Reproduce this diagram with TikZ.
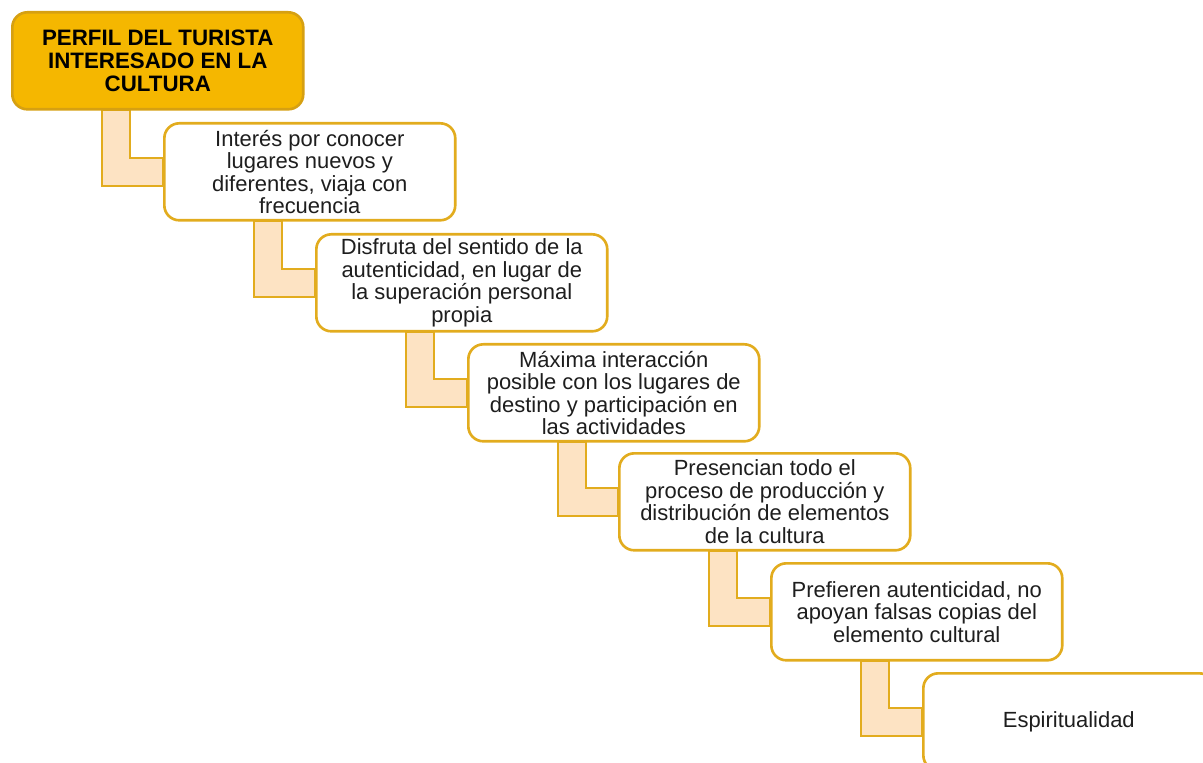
\documentclass[tikz,border=0pt]{standalone}
\usepackage{fontspec}
\setmainfont{Liberation Sans}
\usetikzlibrary{backgrounds}

\definecolor{gold}{RGB}{245,183,0}
\definecolor{goldline}{RGB}{214,160,18}
\definecolor{boxline}{RGB}{226,172,30}
\definecolor{peach}{RGB}{253,227,195}
\definecolor{textgray}{RGB}{30,30,30}

\tikzset{
    stepbox/.style={draw=boxline, line width=1.5pt, rounded corners=0.3cm,
        fill=white, text=textgray, minimum width=5.82cm, minimum height=1.94cm,
        inner sep=2pt, align=center, anchor=north west,
        font=\fontsize{12.5}{12.8}\selectfont},
    headbox/.style={stepbox, fill=gold, draw=goldline, text=black,
        font=\bfseries\fontsize{12.7}{12.9}\selectfont},
    link/.style={fill=peach, draw=boxline, line width=1pt}
}

\begin{document}
\begin{tikzpicture}[x=0.02cm, y=-0.02cm]
    \useasboundingbox (0,0) rectangle (1203,763);
    \clip (0,0) rectangle (1203,763);

%Kaesten
    \node[headbox] (perfil) at (11,11)
        {PERFIL DEL TURISTA\\INTERESADO EN LA\\CULTURA};
    \node[stepbox] (interes) at (163,122)
        {Interés por conocer\\lugares nuevos y\\diferentes, viaja con\\frecuencia};
    \node[stepbox] (disfruta) at (315,233)
        {Disfruta del sentido de la\\autenticidad, en lugar de\\la superación personal\\propia};
    \node[stepbox] (maxima) at (467,343)
        {Máxima interacción\\posible con los lugares de\\destino y participación en\\las actividades};
    \node[stepbox] (presencian) at (618,452)
        {Presencian todo el\\proceso de producción y\\distribución de elementos\\de la cultura};
    \node[stepbox] (prefieren) at (770,562)
        {Prefieren autenticidad, no\\apoyan falsas copias del\\elemento cultural};
    \node[stepbox] (espiritu) at (922,672)
        {Espiritualidad};

%Verbindungen
    \begin{scope}[on background layer]
    \foreach \a/\b in {perfil/interes, interes/disfruta, disfruta/maxima,
                       maxima/presencian, presencian/prefieren, prefieren/espiritu}{
        \draw[link] ([xshift=1.82cm]\a.south west) -- ++(28,0)
            |- ([yshift=0.28cm]\b.west) -- ([yshift=-0.28cm]\b.west)
            -| ([xshift=1.82cm]\a.south west) -- cycle;}
    \end{scope}

\end{tikzpicture}
\end{document}
